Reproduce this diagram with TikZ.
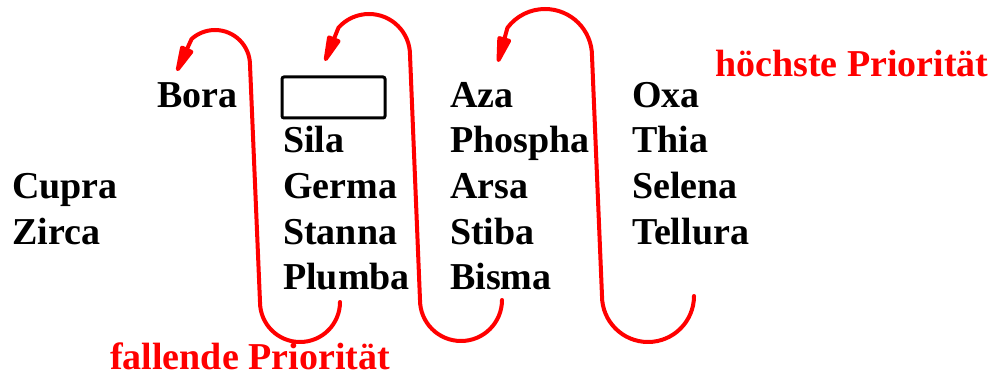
\documentclass[tikz,border=0pt]{standalone}
\usepackage{fontspec}
\setmainfont{Liberation Serif}
\usetikzlibrary{arrows.meta}
\definecolor{pred}{RGB}{255,0,0}
\tikzset{
  word/.style={inner sep=0pt, anchor=base west, font=\fontsize{38}{41}\selectfont\bfseries},
  redword/.style={word, text=pred},
  flow/.style={draw=pred, line width=4pt, line cap=round, line join=round, -{Stealth[length=33pt,width=14pt,inset=0pt,round]}},
  slot/.style={draw=black, line width=3pt, rounded corners=2pt, minimum width=103pt, minimum height=41pt, inner sep=0pt}
}
\begin{document}
\begin{tikzpicture}[x=1pt,y=1pt]
\useasboundingbox (0,0) rectangle (995,375);
% column 1
\node[word] (bora) at (157,267) {Bora};
\node[word] (cupra) at (12,176) {Cupra};
\node[word] (zirca) at (12,131) {Zirca};
% column 2
\node[slot] (box) at (333.5,277.5) {};
\node[word] (sila) at (283,222) {Sila};
\node[word] (germa) at (283,176) {Germa};
\node[word] (stanna) at (283,131) {Stanna};
\node[word] (plumba) at (283,86) {Plumba};
% column 3
\node[word] (aza) at (450,267) {Aza};
\node[word] (phospha) at (450,222) {Phospha};
\node[word] (arsa) at (450,176) {Arsa};
\node[word] (stiba) at (450,131) {Stiba};
\node[word] (bisma) at (450,86) {Bisma};
% column 4
\node[word] (oxa) at (632,267) {Oxa};
\node[word] (thia) at (632,222) {Thia};
\node[word] (selena) at (632,176) {Selena};
\node[word] (tellura) at (632,131) {Tellura};
% labels
\node[redword] (high) at (715,298) {höchste Priorität};
\node[redword] (low) at (110,6) {fallende Priorität};
% red flow curves
\coordinate (s1) at (340,73);
\coordinate (t1) at (177,304);
\coordinate (s2) at (502,75);
\coordinate (t2) at (325,314);
\coordinate (s3) at (694,79);
\coordinate (t3) at (498,313);
\draw[flow] (s1) arc[start angle=0,end angle=-180,radius=40] -- (250,310)
  arc[start angle=0,end angle=132,radius=35] -- (t1);
\draw[flow] (s2) arc[start angle=0,end angle=-180,radius=41] -- (410,320)
  arc[start angle=0,end angle=138,radius=41] -- (t2);
\draw[flow] (s3) arc[start angle=0,end angle=-180,radius=46] -- (592,319)
  arc[start angle=0,end angle=143,radius=47] -- (t3);
\end{tikzpicture}
\end{document}
